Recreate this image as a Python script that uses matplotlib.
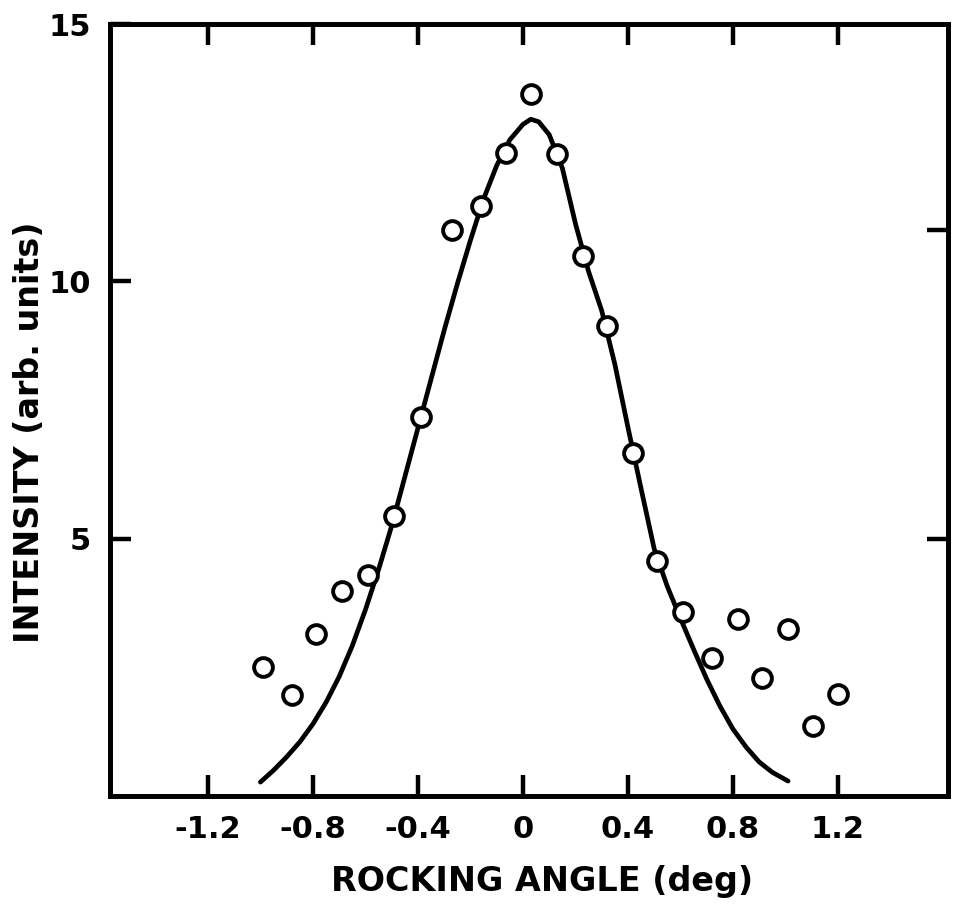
import matplotlib
matplotlib.use("Agg")
import matplotlib.pyplot as plt

# measured data points (open circles)
angle_pts = [-0.99, -0.88, -0.79, -0.69, -0.59, -0.49, -0.39, -0.27, -0.16, -0.065,
             0.03, 0.13, 0.23, 0.32, 0.42, 0.51, 0.61, 0.72, 0.82, 0.91, 1.01, 1.105, 1.20]
intensity_pts = [2.51, 1.97, 3.14, 3.98, 4.29, 5.44, 7.37, 10.99, 11.47, 12.50,
                 13.64, 12.47, 10.49, 9.13, 6.67, 4.57, 3.58, 2.68, 3.43, 2.30, 3.25, 1.36, 1.98]

# fitted curve
fit_angle = [-1.00, -0.95, -0.90, -0.85, -0.80, -0.75, -0.70, -0.65, -0.60, -0.55, -0.50,
             -0.45, -0.40, -0.35, -0.30, -0.25, -0.20, -0.15, -0.10, -0.05, 0.00, 0.03,
             0.06, 0.10, 0.15, 0.20, 0.25, 0.30, 0.35, 0.40, 0.45, 0.50, 0.55, 0.60,
             0.65, 0.70, 0.75, 0.80, 0.85, 0.90, 0.95, 1.01]
fit_intensity = [0.27, 0.50, 0.76, 1.05, 1.40, 1.82, 2.32, 2.92, 3.62, 4.40, 5.25,
                 6.20, 7.15, 8.10, 9.05, 9.95, 10.80, 11.60, 12.25, 12.75, 13.05, 13.15,
                 13.10, 12.85, 12.20, 11.12, 10.19, 9.43, 8.39, 7.16, 5.97, 4.80, 4.07, 3.45,
                 2.85, 2.27, 1.75, 1.30, 0.95, 0.66, 0.46, 0.29]

x_ticks = [-1.2, -0.8, -0.4, 0.0, 0.4, 0.8, 1.2]
x_ticklabels = ["-1.2", "-0.8", "-0.4", "0", "0.4", "0.8", "1.2"]
y_ticks = [5, 10, 15]
y_ticklabels = ["5", "10", "15"]
right_ticks = [5, 11]

plt.rcParams["font.family"] = ["DejaVu Sans"]
plt.rcParams["font.weight"] = "bold"

fig = plt.figure(figsize=(9.54, 9.09), dpi=100)
ax = fig.add_axes([110 / 954, 1 - 796 / 909, 838 / 954, 772 / 909])

ax.plot(fit_angle, fit_intensity, color="black", lw=3.4, solid_capstyle="round",
        solid_joinstyle="round", zorder=2)
ax.plot(angle_pts, intensity_pts, linestyle="none", marker="o", ms=13.5, mew=2.8,
        mfc="white", mec="black", zorder=3)

ax.set_xlim(-1.573, 1.619)
ax.set_ylim(0, 15)

ax.set_xticks(x_ticks)
ax.set_xticklabels(x_ticklabels)
ax.set_yticks(y_ticks)
ax.set_yticklabels(y_ticklabels)

ax.tick_params(axis="both", direction="in", length=15, width=3.2, labelsize=22, pad=14,
               top=True, right=False)
for lbl in ax.get_xticklabels() + ax.get_yticklabels():
    lbl.set_fontweight("bold")

ax2 = ax.twinx()
ax2.set_ylim(0, 15)
ax2.set_yticks(right_ticks)
ax2.tick_params(axis="y", direction="in", length=15, width=3.2, labelright=False)

for a in (ax, ax2):
    for s in a.spines.values():
        s.set_linewidth(3.4)

ax.set_xlabel("ROCKING ANGLE (deg)", fontsize=24, fontweight="bold", va="center")
ax.xaxis.set_label_coords((542 - 110) / 838, (796 - 882) / 772)
ax.set_ylabel("INTENSITY (arb. units)", fontsize=24, fontweight="bold", va="center")
ax.yaxis.set_label_coords((30 - 110) / 838, (796 - 432) / 772)

fig.savefig("out.png", dpi=100)
